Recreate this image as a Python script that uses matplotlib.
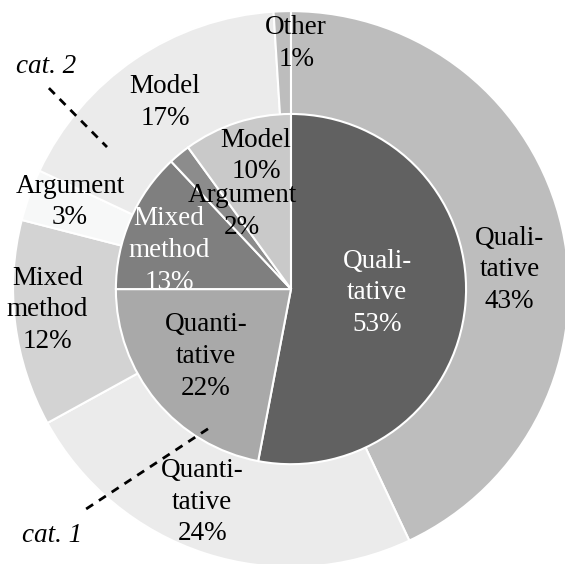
import numpy as np
import matplotlib
matplotlib.use("Agg")
import matplotlib.pyplot as plt

plt.rcParams['font.family'] = ['Liberation Serif', 'DejaVu Serif']

## data: outer ring (cat. 1) and inner pie (cat. 2)
outer_labels = ["Quali-\ntative", "Quanti-\ntative", "Mixed\nmethod", "Argument", "Model", "Other"]
outer_pct = [43, 24, 12, 3, 17, 1]
inner_labels = ["Quali-\ntative", "Quanti-\ntative", "Mixed\nmethod", "Argument", "Model"]
inner_pct = [53, 22, 13, 2, 10]

outer_colors = ["#bdbdbd", "#ebebeb", "#d3d3d3", "#f7f8f8", "#ebebeb", "#bdbdbd"]
inner_colors = ["#616161", "#a9a9a9", "#7f7f7f", "#8c8c8c", "#c9c9c9"]
inner_text = ["white", "black", "white", "black", "black"]

# label placement (radius, angle nudge in deg) relative to wedge middle
outer_pos = [(0.79, -7.6), (0.83, -4.6), (0.88, -2.3), (0.855, -1.7), (0.81, -0.2), (0.885, -3.0)]
inner_pos = [(0.31, 2.8), (0.39, -1.3), (0.46, 5.8), (0.33, -7.5), (0.495, -3.3)]

R_IN = 0.63

fig = plt.figure(figsize=(5.65, 5.64), dpi=100)
ax = fig.add_axes([0, 0, 1, 1])

w_out, _ = ax.pie(outer_pct, radius=1.0, colors=outer_colors, startangle=90,
                  counterclock=False, wedgeprops=dict(edgecolor="white", linewidth=1.5))
w_in, _ = ax.pie(inner_pct, radius=R_IN, colors=inner_colors, startangle=90,
                 counterclock=False, wedgeprops=dict(edgecolor="white", linewidth=1.5))

def put_labels(wedges, labels, pct, pos, colors):
    for w, lab, p, (r, dth), c in zip(wedges, labels, pct, pos, colors):
        mid = np.deg2rad((w.theta1 + w.theta2) / 2 + dth)
        ax.text(r * np.cos(mid), r * np.sin(mid), "%s\n%d%%" % (lab, p),
                ha="center", va="center", fontsize=19.5, color=c, linespacing=1.36)

put_labels(w_out, outer_labels, outer_pct, outer_pos, ["black"] * 6)
put_labels(w_in, inner_labels, inner_pct, inner_pos, inner_text)

# category pointers
ax.plot([-0.871, -0.662], [0.723, 0.511], ls=(0, (3, 2.5)), color="black", lw=2)
ax.plot([-0.737, -0.284], [-0.791, -0.493], ls=(0, (3, 2.5)), color="black", lw=2)
ax.text(-0.881, 0.802, "cat. 2", style="italic", fontsize=19.5, ha="center", va="center")
ax.text(-0.860, -0.888, "cat. 1", style="italic", fontsize=19.5, ha="center", va="center")

ax.set_xlim(-1.047, 0.986)
ax.set_ylim(-0.989, 1.040)
ax.set_aspect("auto")
ax.axis("off")

fig.savefig("out.png", dpi=100)
